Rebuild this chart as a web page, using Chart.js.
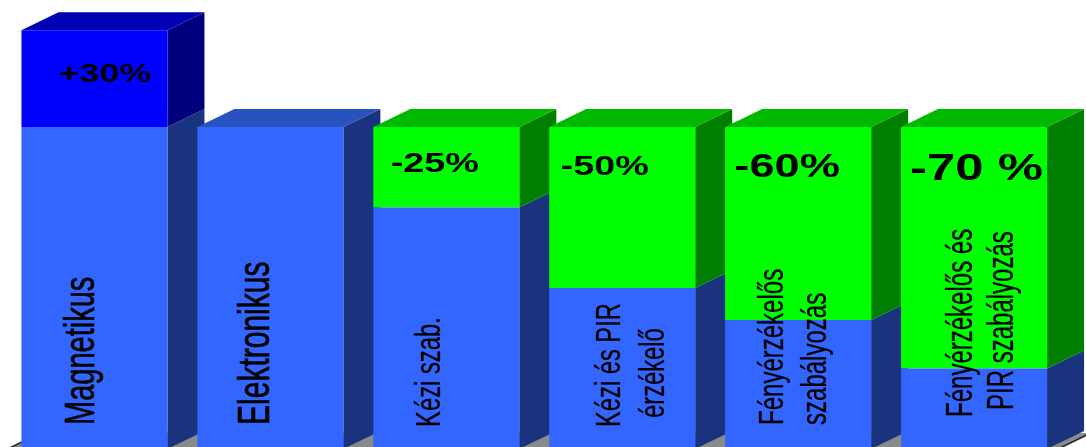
<!DOCTYPE html>
<html>
<head>
<meta charset="utf-8">
<script src="https://cdn.jsdelivr.net/npm/chart.js@4/dist/chart.umd.min.js"></script>
<style>
html,body{margin:0;padding:0;background:#fff;}
canvas{display:block;}
</style>
</head>
<body>
<canvas id="c" width="1086" height="447"></canvas>
<script>
// ---- data ----
const categories = ['Magnetikus', 'Elektronikus', 'Kézi szab.', 'Kézi és PIR érzékelő', 'Fényérzékelős szabályozás', 'Fényérzékelős és PIR szabályozás'];
const labelLines = [['Magnetikus'], ['Elektronikus'], ['Kézi szab.'], ['Kézi és PIR', 'érzékelő'], ['Fényérzékelős', 'szabályozás'], ['Fényérzékelős és', 'PIR szabályozás']];
const baseValues = [100, 100, 75, 50, 40, 25];
const changeValues = [30, 0, 25, 50, 60, 75];
const changeLabels = ['+30%', '', '-25%', '-50%', '-60%', '-70 %'];

// ---- styling / layout (not data) ----
const DEPTH_X = 37, DEPTH_Y = -18;
const frontColors = [['#3366ff','#3366ff','#3366ff','#3366ff','#3366ff','#3366ff'],
                     ['#0000ff','#00ff00','#00ff00','#00ff00','#00ff00','#00ff00']];
const sideColors  = [['#1a337f','#1a337f','#1a337f','#1a337f','#1a337f','#1a337f'],
                     ['#00007f','#007f00','#007f00','#007f00','#007f00','#007f00']];
const topColors   = [['#2852c0','#2852c0','#2852c0','#2852c0','#2852c0','#2852c0'],
                     ['#0000b4','#00b900','#00b900','#00b900','#00b900','#00b900']];
// category label layout: font size, vertical stretch, stroke, [offset from bar left to baseline, offset from zero line to text start]
const catLabelLayout = [
  {size: 29,   stretch: 1.47, stroke: 0.45, lines: [[73, -24]]},
  {size: 30,   stretch: 1.47, stroke: 0.45, lines: [[72, -24]]},
  {size: 23.8, stretch: 1.47, stroke: 0.2, lines: [[67, -22]]},
  {size: 23.7, stretch: 1.47, stroke: 0.2, lines: [[71, -22], [115, -31]]},
  {size: 24,   stretch: 1.47, stroke: 0.2, lines: [[58, -24], [101, -24]]},
  {size: 24,   stretch: 1.5,  stroke: 0.2, lines: [[71, -32], [112, -39]]}
];
// value label layout: size, dx from bar centre, baseline offset from bar top
const valLabelLayout = [
  {size: 26.5, dx: 10.5, dy: 52},
  {size: 26,   dx: 0,    dy: 45},
  {size: 28,   dx: -11.5, dy: 45},
  {size: 28,   dx: -17.5, dy: 48},
  {size: 33.5, dx: -11,  dy: 50},
  {size: 37.7, dx: 2.5,  dy: 53}
];
const VAL_STRETCH = 1.35;

function poly(ctx, pts, color) {
  ctx.beginPath();
  ctx.moveTo(pts[0][0], pts[0][1]);
  for (let i = 1; i < pts.length; i++) ctx.lineTo(pts[i][0], pts[i][1]);
  ctx.closePath();
  ctx.fillStyle = color;
  ctx.fill();
}

const threeD = {
  id: 'threeD',
  beforeDatasetsDraw(chart) {
    const ctx = chart.ctx;
    const y0 = chart.scales.y.getPixelForValue(0);
    const metas = [chart.getDatasetMeta(0), chart.getDatasetMeta(1)];
    // floor
    const fl = metas[0].data[0], fr = metas[0].data[metas[0].data.length - 1];
    const fx0 = fl.x - fl.width / 2 - 18, fx1 = fr.x + fr.width / 2 + 7;
    ctx.save();
    poly(ctx, [[fx0, y0 + 2], [fx1, y0 + 2], [fx1 + DEPTH_X, y0 + 2 + DEPTH_Y], [fx0 + DEPTH_X, y0 + 2 + DEPTH_Y]], '#8a8a8a');
    ctx.strokeStyle = '#202020'; ctx.lineWidth = 1.5;
    ctx.beginPath(); ctx.moveTo(fx0, y0 + 2); ctx.lineTo(fx0 + DEPTH_X, y0 + 2 + DEPTH_Y); ctx.stroke();
    ctx.beginPath(); ctx.moveTo(fx1, y0 + 2); ctx.lineTo(fx1 + DEPTH_X, y0 + 2 + DEPTH_Y); ctx.stroke();
    // extrusions, category by category
    for (let i = 0; i < categories.length; i++) {
      let topIdx = -1;
      for (let d = 0; d < metas.length; d++) {
        const el = metas[d].data[i];
        const top = Math.min(el.y, el.base), bot = Math.max(el.y, el.base);
        if (bot - top < 0.5) continue;
        topIdx = d;
        const r = el.x + el.width / 2;
        poly(ctx, [[r, top], [r + DEPTH_X, top + DEPTH_Y], [r + DEPTH_X, bot + DEPTH_Y], [r, bot]], sideColors[d][i]);
      }
      if (topIdx >= 0) {
        const el = metas[topIdx].data[i];
        const top = Math.min(el.y, el.base);
        const l = el.x - el.width / 2, r = el.x + el.width / 2;
        poly(ctx, [[l, top], [l + DEPTH_X, top + DEPTH_Y], [r + DEPTH_X, top + DEPTH_Y], [r, top]], topColors[topIdx][i]);
      }
    }
    ctx.restore();
  },
  afterDatasetsDraw(chart) {
    const ctx = chart.ctx;
    const y0 = chart.scales.y.getPixelForValue(0);
    const m0 = chart.getDatasetMeta(0), m1 = chart.getDatasetMeta(1);
    ctx.save();
    ctx.fillStyle = '#000';
    ctx.strokeStyle = '#000';
    ctx.lineJoin = 'round';
    // category labels, rotated
    for (let i = 0; i < categories.length; i++) {
      const el = m0.data[i];
      const left = el.x - el.width / 2;
      const lay = catLabelLayout[i];
      ctx.font = lay.size + 'px "Liberation Sans", Arial, sans-serif';
      ctx.textAlign = 'left';
      ctx.textBaseline = 'alphabetic';
      labelLines[i].forEach((txt, k) => {
        const [dx, dy] = lay.lines[k];
        ctx.save();
        ctx.translate(left + dx, y0 + dy);
        ctx.rotate(-Math.PI / 2);
        ctx.scale(1, lay.stretch);
        ctx.fillText(txt, 0, 0);
        ctx.lineWidth = lay.stroke;
        ctx.strokeText(txt, 0, 0);
        ctx.restore();
      });
    }
    // change labels
    for (let i = 0; i < categories.length; i++) {
      if (!changeLabels[i]) continue;
      const el = m1.data[i];
      const top = Math.min(el.y, el.base);
      const lay = valLabelLayout[i];
      ctx.font = 'bold ' + lay.size + 'px "Liberation Sans", Arial, sans-serif';
      ctx.textAlign = 'center';
      ctx.textBaseline = 'alphabetic';
      ctx.save();
      ctx.translate(el.x + lay.dx, top + lay.dy);
      ctx.scale(VAL_STRETCH, 1);
      ctx.fillText(changeLabels[i], 0, 0);
      ctx.restore();
    }
    ctx.restore();
  }
};

new Chart(document.getElementById('c'), {
  type: 'bar',
  data: {
    labels: categories,
    datasets: [
      {label: 'alap', data: baseValues, backgroundColor: frontColors[0], borderWidth: 0},
      {label: 'változás', data: changeValues, backgroundColor: frontColors[1], borderWidth: 0}
    ]
  },
  options: {
    responsive: false,
    devicePixelRatio: 1,
    animation: false,
    layout: {padding: {left: 6.5, right: 24, top: 0, bottom: 0}},
    datasets: {bar: {categoryPercentage: 0.83, barPercentage: 1}},
    plugins: {legend: {display: false}, tooltip: {enabled: false}},
    scales: {
      x: {stacked: true, display: false},
      y: {stacked: true, display: false, min: 0.6, max: 139.4}
    }
  },
  plugins: [threeD]
});
</script>
</body>
</html>
